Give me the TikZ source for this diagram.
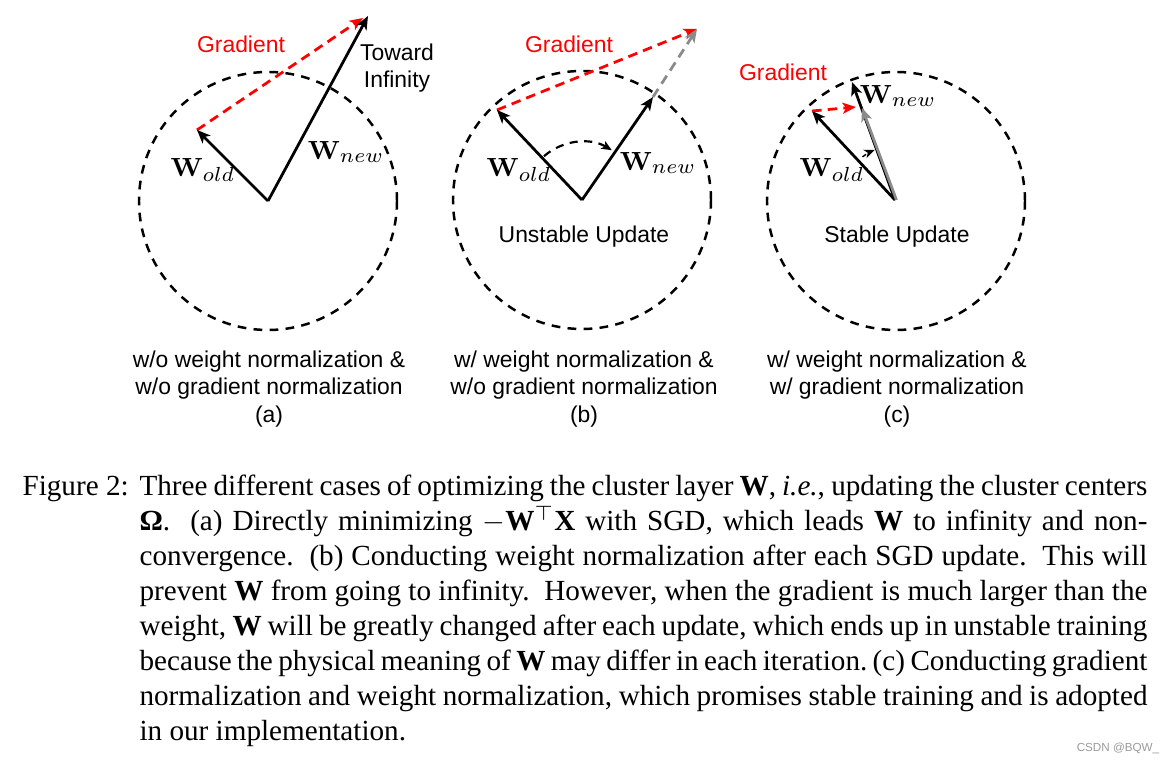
\documentclass[tikz,border=0pt]{standalone}
\usepackage[no-math]{fontspec}
\setmainfont{Liberation Serif}
\setsansfont{Liberation Sans}
\usetikzlibrary{arrows.meta}
\definecolor{gradred}{HTML}{FF0000}
\definecolor{stepgray}{HTML}{8A8A8A}
\definecolor{markgray}{HTML}{9A9A9A}
\newcommand{\capfont}{\fontsize{10}{12}\selectfont}
\newcommand{\figfont}{\sffamily\fontsize{7.85}{9.3}\selectfont}

\begin{document}
\begin{tikzpicture}[x=0.3429pt,y=0.3429pt,
    vec/.style={-{Stealth[length=4.6pt,width=3.8pt,inset=1.2pt]},line width=0.95pt},
    ring/.style={line width=0.85pt,dash pattern=on 3pt off 2.5pt},
    gradvec/.style={vec,gradred,dash pattern=on 3.3pt off 2.1pt},
    turn/.style={-{Stealth[length=3.6pt,width=3pt,inset=1pt]},line width=0.75pt,dash pattern=on 2.8pt off 2.2pt},
    txt/.style={font=\figfont,align=center,inner sep=0pt},
    wlab/.style={font=\fontsize{9.3}{11}\selectfont,inner sep=0pt},
    capline/.style={font=\capfont,anchor=base west,inner sep=0pt}]
  \useasboundingbox (0,0) rectangle (1168,763);
  % (a) no normalization
  \coordinate (oa) at (268,562);
  \coordinate (olda) at (197,633);
  \coordinate (newa) at (368,747);
  \coordinate (grda) at (363,745);
  \draw[ring] (oa) circle[radius=129];
  \draw[gradvec] (olda) -- (grda);
  \draw[vec] (oa) -- (olda);
  \draw[vec] (oa) -- (newa);
  \node[txt,text=gradred] (gla) at (241,719) {Gradient};
  \node[txt] (inf) at (397,695) {Toward\\Infinity};
  \node[wlab] (wla) at (203,593) {$\mathbf{W}_{old}$};
  \node[wlab] (wna) at (346,611) {$\mathbf{W}_{new}$};
  \node[txt] (capa) at (269,374) {w/o weight normalization \&\\w/o gradient normalization\\(a)};
  % (b) weight normalization only
  \coordinate (ob) at (582,563);
  \coordinate (oldb) at (497,653);
  \coordinate (newb) at (653,666);
  \coordinate (endb) at (697,734);
  \draw[ring] (ob) circle[radius=129];
  \draw[gradvec] (oldb) -- (endb);
  \draw[vec,stepgray,dash pattern=on 3.3pt off 2.1pt] (newb) -- (endb);
  \draw[vec] (ob) -- (oldb);
  \draw[vec] (ob) -- (newb);
  \draw[turn] (ob) ++(131:58) arc[start angle=131,end angle=59,radius=58];
  \node[txt,text=gradred] (glb) at (569,719) {Gradient};
  \node[wlab] (wlb) at (519,593) {$\mathbf{W}_{old}$};
  \node[wlab] (wnb) at (658,600) {$\mathbf{W}_{new}$};
  \node[txt] (unst) at (584,526) {Unstable Update};
  \node[txt] (capb) at (584,374) {w/ weight normalization \&\\w/o gradient normalization\\(b)};
  % (c) weight and gradient normalization
  \coordinate (oc) at (895,563);
  \coordinate (oldc) at (812,652);
  \coordinate (newc) at (852,681);
  \coordinate (stepc) at (862,655);
  \draw[ring] (896,562) circle[radius=129];
  \draw[vec] (oc) -- (oldc);
  \draw[vec] (oc) -- (newc);
  \draw[vec,stepgray] ([xshift=0.5]oc) -- (stepc);
  \draw[gradvec] (oldc) -- (856,656);
  \draw[turn,line width=0.5pt,dash pattern=on 1.5pt off 1.2pt] (oc) ++(127:54) arc[start angle=127,end angle=112,radius=54];
  \node[txt,text=gradred] (glc) at (783,691) {Gradient};
  \node[wlab] (wnc) at (898,667) {$\mathbf{W}_{new}$};
  \node[wlab] (wlc) at (832,593) {$\mathbf{W}_{old}$};
  \node[txt] (stab) at (897,526) {Stable Update};
  \node[txt] (capc) at (897,374) {w/ weight normalization \&\\w/ gradient normalization\\(c)};
  % caption
  \node[capline] (fig) at (22,267) {Figure 2:};
  \node[capline] (cap1) at (139,267) {\makebox[345.6pt][s]{Three different cases of optimizing the cluster layer \textbf{W}, \textit{i.e.}, updating the cluster centers}};
  \node[capline] (cap2) at (139,232) {\makebox[345.6pt][s]{\textbf{Ω}.\ \ (a) Directly minimizing $-$\textbf{W}$^{\top}$\textbf{X} with SGD, which leads \textbf{W} to infinity and non-}};
  \node[capline] (cap3) at (139,197) {\makebox[345.6pt][s]{convergence.\ \ (b) Conducting weight normalization after each SGD update.\ \ This will}};
  \node[capline] (cap4) at (139,162) {\makebox[345.6pt][s]{prevent \textbf{W} from going to infinity.\ \ However, when the gradient is much larger than the}};
  \node[capline] (cap5) at (139,127) {\makebox[345.6pt][s]{weight, \textbf{W} will be greatly changed after each update, which ends up in unstable training}};
  \node[capline] (cap6) at (139,92) {\makebox[345.6pt][s]{because the physical meaning of \textbf{W} may differ in each iteration.\ (c) Conducting gradient}};
  \node[capline] (cap7) at (139,57) {\makebox[345.6pt][s]{normalization and weight normalization, which promises stable training and is adopted}};
  \node[capline] (cap8) at (139,22) {in our implementation.};
  \node[font=\sffamily\fontsize{4}{5}\selectfont,text=markgray,inner sep=0pt] (mark) at (1118,15) {CSDN @BQW\_};
\end{tikzpicture}
\end{document}
